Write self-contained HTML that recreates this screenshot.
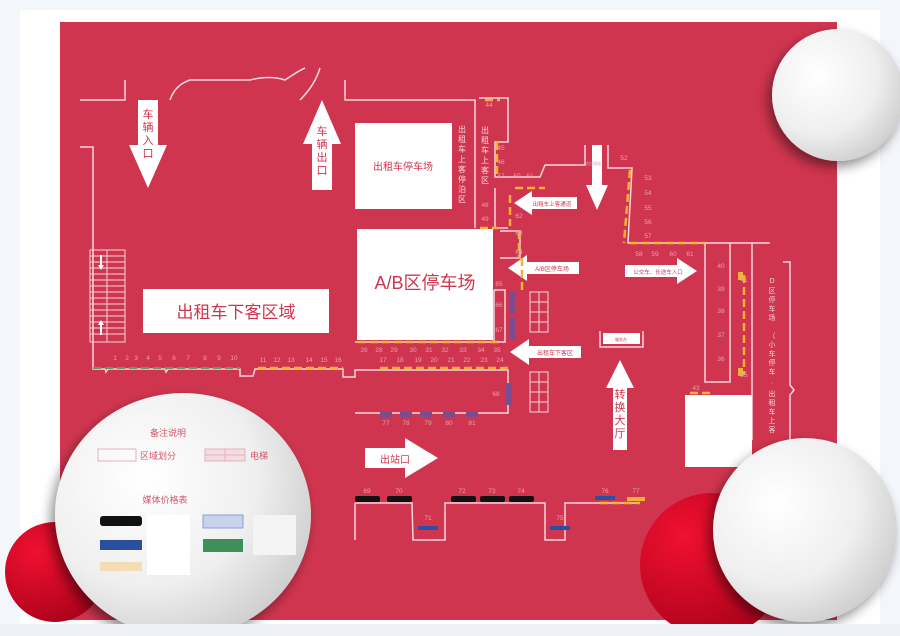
<!DOCTYPE html>
<html><head><meta charset="utf-8"><style>
html,body{margin:0;padding:0;background:#f3f6fa;}
svg{display:block;font-family:"Liberation Sans","Noto Sans CJK SC",sans-serif;}
</style></head><body>
<svg width="900" height="636" viewBox="0 0 900 636" xmlns="http://www.w3.org/2000/svg">
<defs>
<radialGradient id="g1" cx="0.35" cy="0.35" r="0.8"><stop offset="0" stop-color="#ffffff"/><stop offset="0.55" stop-color="#efefef"/><stop offset="1" stop-color="#c4c4c4"/></radialGradient>
<radialGradient id="rg" cx="0.3" cy="0.3" r="0.9"><stop offset="0" stop-color="#f01030"/><stop offset="1" stop-color="#a00018"/></radialGradient>
<filter id="sh" x="-30%" y="-30%" width="160%" height="160%"><feGaussianBlur in="SourceAlpha" stdDeviation="6"/><feOffset dx="-4" dy="6"/><feComponentTransfer><feFuncA type="linear" slope="0.45"/></feComponentTransfer><feMerge><feMergeNode/><feMergeNode in="SourceGraphic"/></feMerge></filter>
</defs>
<rect x="0" y="0" width="900" height="636" fill="#f3f6fa"/>
<rect x="20" y="10" width="860" height="614" fill="#ffffff"/>
<rect x="60" y="22" width="777" height="598" fill="#d0354f"/>
<g fill="none" stroke="#f4d6dc" stroke-width="1.5">
<polyline points="80,100 125,100 125,80"/>
<path d="M170,100 Q175,85 190,80 L250,80 Q270,75 285,80 Q300,70 305,68"/>
<path d="M300,100 Q315,85 320,68"/>
<polyline points="345,80 345,100 475,100 475,228"/>
<polyline points="80,147 93,147 93,369 105,369 106,372 108,369 165,369 166,372 168,369 240,369 240,376 253,376 255,369 343,369 343,377 355,377 355,370 508,370 508,413 355,413"/>
<polyline points="355,342 500,342"/>
<polyline points="479,98 508,98 508,142 495,142 495,177 540,177 545,165 585,165 585,145"/>
<polyline points="608,145 608,168 632,168 628,243 705,243"/>
<polyline points="495,188 495,228 508,228"/>
<polyline points="494,290 494,342 505,342 505,290 494,290"/>
<polyline points="500,231 520,231 520,258 500,258"/>
<rect x="705" y="243" width="25" height="139"/>
<polyline points="730,243 770,243"/>
<polyline points="752,243 752,440"/>
<polyline points="783,262 790,262 790,385 794,390 790,395 790,450"/>
<polyline points="355,503 355,540"/>
<polyline points="355,503 412,503 413,540 445,540 445,503 545,503 545,540 565,540 565,503 640,503"/>
<polyline points="600,331 600,347 643,347 643,331"/>
</g>
<g fill="none" stroke="#f4d6dc" stroke-width="1">
<rect x="90" y="250" width="35" height="92"/>
<path d="M90,256H125M90,262H125M90,268H125M90,274H125M90,280H125M90,286H125M90,292H125M90,298H125M90,304H125M90,310H125M90,316H125M90,322H125M90,328H125M90,334H125M107,250V342"/>
<rect x="530" y="292" width="18" height="40"/><path d="M539,292V332M530,302H548M530,312H548M530,322H548"/>
<rect x="530" y="372" width="18" height="40"/><path d="M539,372V412M530,382H548M530,392H548M530,402H548"/>
</g>
<g fill="#fff"><path d="M100,255v10h-2l3,5 3-5h-2v-10z"/><path d="M100,335v-10h-2l3,-5 3,5h-2v10z"/></g>
<g fill="#fff">
<rect x="355" y="123" width="97" height="86"/>
<rect x="357" y="229" width="136" height="111"/>
<rect x="143" y="289" width="186" height="44"/>
<rect x="685" y="395" width="67" height="72"/>
</g>
<g fill="#d0354f" text-anchor="middle">
<text x="403" y="170" font-size="10">出租车停车场</text>
<text x="425" y="289" font-size="18">A/B区停车场</text>
<text x="236" y="318" font-size="17">出租车下客区域</text>
</g>
<g fill="#fff">
<path d="M138,100h20v45h9l-19,43 -19,-43h9z"/>
<path d="M312,190h20v-46h9l-19,-44 -19,44h9z"/>
<path d="M577,197v12h-45v6l-18,-12 18,-12v6z"/>
<path d="M579,262v12h-52v7l-19,-13 19,-13v7z"/>
<path d="M581,346v12h-52v7l-19,-13 19,-13v7z"/>
<path d="M625,265v12h52v7l20,-13 -20,-13v7z"/>
<path d="M592,145h10v40h6l-11,25 -11,-25h6z"/>
<path d="M613,450h14v-62h7l-14,-28 -14,28h7z"/>
<path d="M365,448v20h40v10l33,-20 -33,-20v10z"/>
<rect x="603" y="333" width="37" height="11"/>
</g>
<g fill="#d0354f" font-size="11" text-anchor="middle">
<text x="148" y="118">车</text><text x="148" y="131">辆</text><text x="148" y="144">入</text><text x="148" y="157">口</text>
<text x="322" y="135">车</text><text x="322" y="148">辆</text><text x="322" y="161">出</text><text x="322" y="174">口</text>
<text x="620" y="398">转</text><text x="620" y="411">换</text><text x="620" y="424">大</text><text x="620" y="437">厅</text>
<text x="395" y="463" font-size="10">出站口</text>
<text x="552" y="206" font-size="5.5">出租车上客通道</text>
<text x="552" y="271" font-size="6">A/B区停车场</text>
<text x="555" y="355" font-size="6">出租车下客区</text>
<text x="658" y="274" font-size="5.5">公交车、长途车入口</text>
<text x="621" y="341" font-size="4">服务台</text>
</g>
<g fill="#f4d6dc" font-size="8" text-anchor="middle">
<text x="462" y="132">出</text><text x="462" y="142">租</text><text x="462" y="152">车</text><text x="462" y="162">上</text><text x="462" y="172">客</text><text x="462" y="182">停</text><text x="462" y="192">泊</text><text x="462" y="202">区</text>
<text x="485" y="133">出</text><text x="485" y="143">租</text><text x="485" y="153">车</text><text x="485" y="163">上</text><text x="485" y="173">客</text><text x="485" y="183">区</text>
<text x="772" y="283" font-size="7">D</text><text x="772" y="293" font-size="7">区</text><text x="772" y="302" font-size="7">停</text><text x="772" y="311" font-size="7">车</text><text x="772" y="320" font-size="7">场</text>
<text x="772" y="338" font-size="7">（</text><text x="772" y="347" font-size="7">小</text><text x="772" y="356" font-size="7">车</text><text x="772" y="365" font-size="7">停</text><text x="772" y="374" font-size="7">车</text><text x="772" y="385" font-size="7">·</text><text x="772" y="396" font-size="7">出</text><text x="772" y="405" font-size="7">租</text><text x="772" y="414" font-size="7">车</text><text x="772" y="423" font-size="7">上</text><text x="772" y="432" font-size="7">客</text>
</g>
<g stroke="#f2b233" stroke-width="2.5" stroke-dasharray="8 4" fill="none">
<path d="M258,368H343M380,368H508M358,342H500M485,100H500M497,142V177M515,188H545M510,195V226M519,231V258M522,258V290M480,228H498M630,170L624,243M630,243H705M744,275V375M690,393H712M600,503H640"/>
</g>
<g stroke="#5f9e69" stroke-width="2" stroke-dasharray="8 4"><path d="M93,368H240"/></g>
<g fill="#f2b233"><rect x="738" y="272" width="5" height="8"/><rect x="738" y="368" width="5" height="8"/><rect x="627" y="497" width="18" height="4"/></g>
<g fill="#7a4d8e"><rect x="509" y="292" width="6" height="22"/><rect x="509" y="317" width="6" height="22"/><rect x="506" y="383" width="6" height="22"/>
<rect x="380" y="412" width="12" height="5"/><rect x="400" y="412" width="12" height="5"/><rect x="420" y="412" width="12" height="5"/><rect x="443" y="412" width="12" height="5"/><rect x="466" y="412" width="12" height="5"/></g>
<g fill="#111"><rect x="355" y="496" width="25" height="6" rx="2"/><rect x="387" y="496" width="25" height="6" rx="2"/><rect x="451" y="496" width="25" height="6" rx="2"/><rect x="480" y="496" width="25" height="6" rx="2"/><rect x="509" y="496" width="25" height="6" rx="2"/></g>
<g fill="#2a4fa0"><rect x="418" y="526" width="20" height="4"/><rect x="550" y="526" width="20" height="4"/><rect x="595" y="496" width="20" height="4"/></g>
<g fill="#e9a0ad" font-size="6.5" text-anchor="middle">
<text x="115" y="360">1</text><text x="127" y="360">2</text><text x="136" y="360">3</text><text x="148" y="360">4</text><text x="160" y="360">5</text><text x="174" y="360">6</text><text x="188" y="360">7</text><text x="205" y="360">8</text><text x="219" y="360">9</text><text x="234" y="360">10</text>
<text x="263" y="362">11</text><text x="277" y="362">12</text><text x="291" y="362">13</text><text x="309" y="362">14</text><text x="324" y="362">15</text><text x="338" y="362">16</text>
<text x="364" y="352">26</text><text x="379" y="352">28</text><text x="394" y="352">29</text><text x="413" y="352">30</text><text x="429" y="352">31</text><text x="445" y="352">32</text><text x="463" y="352">33</text><text x="481" y="352">34</text><text x="497" y="352">35</text>
<text x="383" y="362">17</text><text x="400" y="362">18</text><text x="418" y="362">19</text><text x="434" y="362">20</text><text x="451" y="362">21</text><text x="467" y="362">22</text><text x="484" y="362">23</text><text x="500" y="362">24</text>
<text x="489" y="107">44</text><text x="501" y="150">45</text><text x="501" y="164">46</text><text x="501" y="178">47</text><text x="517" y="178">50</text><text x="530" y="178">51</text>
<text x="485" y="207">48</text><text x="485" y="221">49</text><text x="519" y="218">62</text><text x="519" y="235">63</text><text x="519" y="254">64</text>
<text x="499" y="286">65</text><text x="499" y="307">66</text><text x="499" y="332">67</text><text x="496" y="396">68</text>
<text x="624" y="160">52</text><text x="648" y="180">53</text><text x="648" y="195">54</text><text x="648" y="210">55</text><text x="648" y="224">56</text><text x="648" y="238">57</text>
<text x="639" y="256">58</text><text x="655" y="256">59</text><text x="673" y="256">60</text><text x="690" y="256">61</text>
<text x="721" y="268">40</text><text x="721" y="291">39</text><text x="721" y="313">38</text><text x="721" y="337">37</text><text x="721" y="361">36</text><text x="744" y="282">41</text><text x="744" y="377">35</text><text x="696" y="390">43</text>
<text x="386" y="425">77</text><text x="406" y="425">78</text><text x="428" y="425">79</text><text x="449" y="425">80</text><text x="472" y="425">81</text>
<text x="367" y="493">69</text><text x="399" y="493">70</text><text x="462" y="493">72</text><text x="492" y="493">73</text><text x="521" y="493">74</text><text x="428" y="520">71</text><text x="560" y="520">75</text><text x="605" y="493">76</text><text x="636" y="493">77</text>
<text x="593" y="165" font-size="4">进出通道</text>
</g>
<circle cx="712" cy="565" r="72" fill="url(#rg)"/>
<circle cx="55" cy="572" r="50" fill="url(#rg)"/>
<circle cx="838" cy="95" r="66" fill="url(#g1)" filter="url(#sh)"/>
<circle cx="805" cy="530" r="92" fill="url(#g1)" filter="url(#sh)"/>
<ellipse cx="183" cy="515" rx="128" ry="122" fill="url(#g1)" filter="url(#sh)"/>
<rect x="0" y="624" width="900" height="12" fill="#eef2f7"/>
<g font-size="9" fill="#d8556b">
<text x="168" y="436" text-anchor="middle">备注说明</text>
<rect x="98" y="449" width="38" height="12" fill="none" stroke="#e8b0ba"/>
<text x="140" y="459">区域划分</text>
<rect x="205" y="449" width="40" height="12" fill="#f3dde1" stroke="#e8b0ba"/>
<path d="M225,449V461M205,455H245" stroke="#e8b0ba"/>
<text x="250" y="459">电梯</text>
<text x="165" y="503" text-anchor="middle">媒体价格表</text>
</g>
<rect x="100" y="516" width="42" height="10" rx="3" fill="#111"/>
<rect x="100" y="540" width="42" height="10" fill="#2a4fa0"/>
<rect x="100" y="562" width="42" height="9" fill="#f3dcb6"/>
<rect x="147" y="515" width="43" height="60" fill="#fff"/>
<rect x="203" y="515" width="40" height="13" fill="#c7d3ee" stroke="#8aa0d0"/>
<rect x="203" y="539" width="40" height="13" fill="#3f8f58"/>
<rect x="253" y="515" width="43" height="40" fill="#f4f4f4"/>
</svg>
</body></html>
